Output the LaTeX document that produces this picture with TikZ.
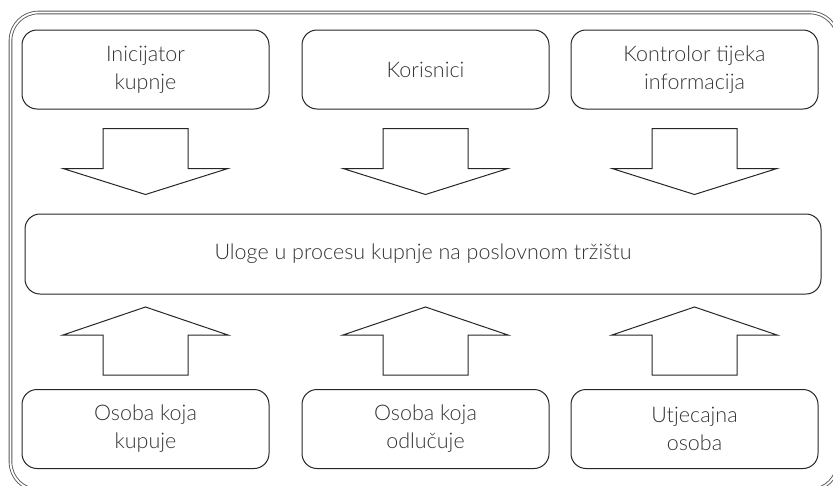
\documentclass[tikz,border=0pt]{standalone}
\usepackage{fontspec}
\setmainfont{Lato}[UprightFont=* Light]
\usepackage{tikz}
\usetikzlibrary{positioning, calc}
\colorlet{colorLine}{black!85}
\colorlet{colorText}{black!80}
\colorlet{colorFrame}{black!65}
\tikzset{role/.style={draw=colorLine, line width=1pt, rounded corners=15pt, minimum width=247pt, minimum height=79pt, align=center, text=colorText, font=\fontsize{21.5}{28}\selectfont}}
\newcommand{\downblock}[1]{\draw[colorLine, line width=1pt] ($(#1.south)+(-42.5,19)$) -- ++(85,0) -- ++(0,40) -- ++(40,0) -- ++(-82.5,26) -- ++(-82.5,-26) -- ++(40,0) -- cycle;}
\newcommand{\upblock}[1]{\draw[colorLine, line width=1pt] ($(#1.north)+(-42.5,-14)$) -- ++(85,0) -- ++(0,-40) -- ++(40,0) -- ++(-82.5,-28) -- ++(-82.5,28) -- ++(40,0) -- cycle;}

\begin{document}
\begin{tikzpicture}[x=1pt, y=-1pt, node distance=32pt]
\useasboundingbox (0,0) rectangle (833,485);
\draw[colorFrame, line width=0.9pt, double=white, double distance=1.8pt, rounded corners=28pt] (10.5,12.5) rectangle (838,490);
% top row
\node[role] (inic) at (145.5,69.5) {Inicijator\\kupnje};
\node[role, right=32pt of inic] (kor) {Korisnici};
\node[role, right=21pt of kor] (kontr) {Kontrolor tijeka\\informacija};
% middle
\node[role, minimum width=796pt, minimum height=80pt] (uloge) at (423,254) {Uloge u procesu kupnje na poslovnom tržištu};
% bottom row
\node[role] (kupuje) at (145.5,429) {Osoba koja\\kupuje};
\node[role, right=32pt of kupuje] (odlucuje) {Osoba koja\\odlučuje};
\node[role, right=21pt of odlucuje] (utjec) {Utjecajna\\osoba};
% arrows
\downblock{inic}
\downblock{kor}
\downblock{kontr}
\upblock{kupuje}
\upblock{odlucuje}
\upblock{utjec}
\end{tikzpicture}
\end{document}
